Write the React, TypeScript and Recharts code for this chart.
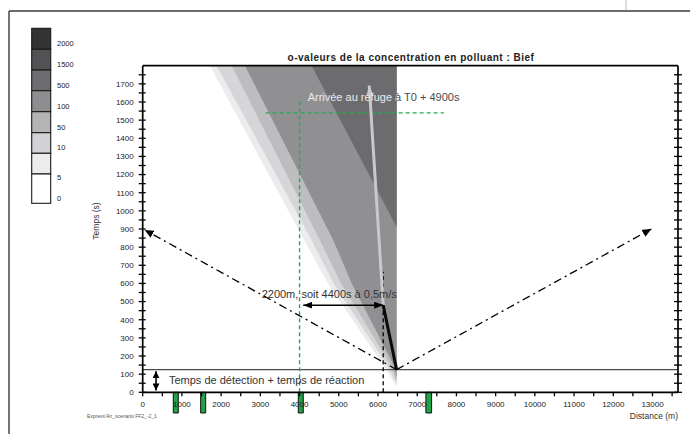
import React from 'react';
import {
  ComposedChart,
  XAxis,
  YAxis,
  Area,
  Line,
  Scatter,
  ReferenceLine,
  ReferenceArea,
} from 'recharts';

// ---------------- data ----------------
const X_DOMAIN: [number, number] = [0, 13650];
const Y_DOMAIN: [number, number] = [0, 1800];
const X_TICKS = [0, 500, 1000, 1500, 2000, 2500, 3000, 3500, 4000, 4500, 5000, 5500, 6000, 6500, 7000, 7500, 8000, 8500, 9000, 9500, 10000, 10500, 11000, 11500, 12000, 12500, 13000, 13500];
const Y_TICKS = [0, 50, 100, 150, 200, 250, 300, 350, 400, 450, 500, 550, 600, 650, 700, 750, 800, 850, 900, 950, 1000, 1050, 1100, 1150, 1200, 1250, 1300, 1350, 1400, 1450, 1500, 1550, 1600, 1650, 1700, 1750];
const X_LABEL_STEP = 1000;
const Y_LABEL_STEP = 100;

const TITLE = 'o-valeurs de la concentration en polluant : Bief';
const X_TITLE = 'Distance (m)';
const Y_TITLE = 'Temps (s)';
const FOOTER = "Express'Air_scenario FF2_-2_1";

const LEGEND_LEVELS = ['2000', '1500', '500', '100', '50', '10', '5', '0'];
const LEGEND_COLORS = ['#333335', '#525254', '#6d6d70', '#8e8e91', '#b4b4b6', '#d2d2d4', '#ececee', '#ffffff'];

// iso-concentration bands (lightest drawn first); boundary polyline points
const BAND_LEVELS = ['5', '10', '50', '100', '500'];
const BAND_COLORS = ['#ececee', '#d6d6d8', '#bdbdbf', '#909093', '#6c6c6f'];
const BAND_EDGE_X = [
  [1715, 4120, 4720, 6130, 6475],
  [1886, 4308, 4870, 6230, 6475],
  [2268, 4520, 5060, 6320, 6475],
  [2607, 4860, 5330, 6400, 6475],
  [4308, 6475],
];
const BAND_EDGE_Y = [
  [1800, 838, 600, 150, 30],
  [1800, 838, 600, 150, 45],
  [1800, 838, 600, 150, 60],
  [1800, 838, 600, 150, 80],
  [1800, 911],
];
const SOURCE_X = 6475;

const DETECTION_TIME = 125;
const SOURCE = { x: 6475, y: 125 };
const LEFT_REACH = { x: 50, y: 895 };
const RIGHT_REACH = { x: 12970, y: 900 };
const WALK_END = { x: 6133, y: 480 };
const REFUGE_ARRIVAL = { x: 5777, y: 1691 };

const GREEN_V = [{ x: 4000, y: 0 }, { x: 4000, y: 1612 }];
const GREEN_H = [{ x: 3135, y: 1540 }, { x: 7680, y: 1540 }];
const DIST_ARROW = [{ x: 4094, y: 480 }, { x: 6133, y: 480 }];
const DASH_V = [{ x: 6133, y: 0 }, { x: 6133, y: 664 }];
const DETECT_ARROW = [{ x: 340, y: 10 }, { x: 340, y: 116 }];

const REFUGES_X1 = [780, 1478, 3967, 7222];
const REFUGES_X2 = [907, 1606, 4094, 7367];
const REFUGE_DEPTH = -114;

const NOTE_ARRIVAL = { x: 4206, y: 1606, text: 'Arrivée au refuge à T0 + 4900s' };
const NOTE_DIST = { x: 3033, y: 522, text: '2200m, soit 4400s à 0,5m/s' };
const NOTE_DETECT = { x: 670, y: 43, text: 'Temps de détection + temps de réaction' };

// ---------------- layout / style ----------------
const W = 690;
const H = 434;
const MARGIN = { top: 64.7, right: 11, bottom: 40.7, left: 141.7 };
const NARROW = "'Liberation Sans Narrow', 'Arial Narrow', 'Liberation Sans', Arial, sans-serif";
const SANS = "'Liberation Sans', Arial, Helvetica, sans-serif";
const LEGEND_EDGES = [28.3, 49.3, 70, 90.7, 111.7, 132.7, 153.3, 174, 203.3];
const LEGEND_LABEL_Y = [43.3, 64.7, 85.3, 106.7, 127, 147, 177.7, 198.3];

const bandData = BAND_EDGE_X.map((xs, i) =>
  xs.map((x, j) => ({ x, lo: BAND_EDGE_Y[i][j], hi: Y_DOMAIN[1] }))
);

const fmtX = (v: number) => (v % X_LABEL_STEP === 0 ? String(v) : '');
const fmtY = (v: number) => (v % Y_LABEL_STEP === 0 ? String(v) : '');
const noLabel = () => '';

const AX = '#000';
const AXIS_LINE = { stroke: AX, strokeWidth: 1.7 };
const TICK_LINE = { stroke: AX, strokeWidth: 1.3 };
const TICK_FONT = { fontSize: 8, fill: '#222', fontFamily: NARROW };
const HIDDEN_TICK = { fontSize: 1, fill: 'none' };
const GREEN = '#1fae4e';

const seg = (
  key: string,
  data: { x: number; y: number }[],
  stroke: string,
  width: number,
  extra: Record<string, any> = {}
) => (
  <Line
    key={key}
    xAxisId="x"
    yAxisId="y"
    data={data}
    dataKey="y"
    type="linear"
    stroke={stroke}
    strokeWidth={width}
    dot={false}
    activeDot={false}
    isAnimationActive={false}
    legendType="none"
    {...extra}
  />
);

const textShape = (text: string, fill: string) => (p: any) => (
  <text x={p.cx} y={p.cy} fill={fill} fontSize={11} fontFamily={SANS}>
    {text}
  </text>
);

export default function App() {
  return (
    <div style={{ position: 'absolute', left: 0, top: 0, width: W, height: H, background: '#fff', overflow: 'hidden' }}>
      <svg width={0} height={0} style={{ position: 'absolute' }}>
        <defs>
          <marker id="ah-dd" viewBox="0 0 10 10" refX="10" refY="5" markerWidth="9" markerHeight="8" markerUnits="userSpaceOnUse" orient="auto-start-reverse" preserveAspectRatio="none">
            <path d="M0,0 L10,5 L0,10 z" fill="#000" />
          </marker>
          <marker id="ah-black" viewBox="0 0 10 10" refX="10" refY="5" markerWidth="9" markerHeight="7" markerUnits="userSpaceOnUse" orient="auto-start-reverse" preserveAspectRatio="none">
            <path d="M0,0 L10,5 L0,10 z" fill="#000" />
          </marker>
          <marker id="ah-small" viewBox="0 0 10 10" refX="10" refY="5" markerWidth="7" markerHeight="7" markerUnits="userSpaceOnUse" orient="auto-start-reverse" preserveAspectRatio="none">
            <path d="M0,0 L10,5 L0,10 z" fill="#000" />
          </marker>
          <marker id="ah-gray" viewBox="0 0 10 10" refX="10" refY="5" markerWidth="10" markerHeight="7" markerUnits="userSpaceOnUse" orient="auto-start-reverse" preserveAspectRatio="none">
            <path d="M0,0 L10,5 L0,10 z" fill="#c9c9cb" />
          </marker>
        </defs>
      </svg>

      <ComposedChart width={W} height={H} margin={MARGIN}>
        <XAxis
          xAxisId="x"
          dataKey="x"
          type="number"
          domain={X_DOMAIN}
          allowDataOverflow
          ticks={X_TICKS}
          interval={0}
          tickFormatter={fmtX}
          height={1}
          tickSize={4}
          tickMargin={5}
          axisLine={AXIS_LINE}
          tickLine={TICK_LINE}
          tick={TICK_FONT}
        />
        <XAxis xAxisId="xin" type="number" mirror domain={X_DOMAIN} allowDataOverflow ticks={X_TICKS} interval={0} height={1} tickSize={3} tickFormatter={noLabel} tick={HIDDEN_TICK} axisLine={false} tickLine={TICK_LINE} />
        <XAxis xAxisId="xt" orientation="top" type="number" domain={X_DOMAIN} allowDataOverflow ticks={X_TICKS} interval={0} height={1} tickSize={4} tickFormatter={noLabel} tick={HIDDEN_TICK} axisLine={AXIS_LINE} tickLine={TICK_LINE} />
        <XAxis xAxisId="xtin" orientation="top" mirror type="number" domain={X_DOMAIN} allowDataOverflow ticks={X_TICKS} interval={0} height={1} tickSize={3} tickFormatter={noLabel} tick={HIDDEN_TICK} axisLine={false} tickLine={TICK_LINE} />

        <YAxis
          yAxisId="y"
          dataKey="y"
          type="number"
          domain={Y_DOMAIN}
          allowDataOverflow
          ticks={Y_TICKS}
          interval={0}
          tickFormatter={fmtY}
          width={1}
          tickSize={4}
          tickMargin={5}
          axisLine={AXIS_LINE}
          tickLine={TICK_LINE}
          tick={TICK_FONT}
        />
        <YAxis yAxisId="yin" mirror type="number" domain={Y_DOMAIN} allowDataOverflow ticks={Y_TICKS} interval={0} width={1} tickSize={3} tickFormatter={noLabel} tick={HIDDEN_TICK} axisLine={false} tickLine={TICK_LINE} />
        <YAxis yAxisId="yr" orientation="right" type="number" domain={Y_DOMAIN} allowDataOverflow ticks={Y_TICKS} interval={0} width={1} tickSize={4} tickFormatter={noLabel} tick={HIDDEN_TICK} axisLine={AXIS_LINE} tickLine={TICK_LINE} />
        <YAxis yAxisId="yrin" orientation="right" mirror type="number" domain={Y_DOMAIN} allowDataOverflow ticks={Y_TICKS} interval={0} width={1} tickSize={4} tickFormatter={noLabel} tick={HIDDEN_TICK} axisLine={false} tickLine={TICK_LINE} />

        {bandData.map((d, i) => (
          <Area
            key={`band-${BAND_LEVELS[i]}`}
            xAxisId="x"
            yAxisId="y"
            data={d}
            dataKey={(r: any) => [r.lo, r.hi]}
            type="linear"
            stroke="none"
            fill={BAND_COLORS[i]}
            fillOpacity={1}
            dot={false}
            activeDot={false}
            isAnimationActive={false}
            legendType="none"
          />
        ))}

        <ReferenceLine xAxisId="x" yAxisId="y" y={DETECTION_TIME} stroke="#4a4a4a" strokeWidth={1.2} />

        {seg('green-v', GREEN_V, GREEN, 1.4, { strokeDasharray: '4 3' })}
        {seg('green-h', GREEN_H, GREEN, 1.4, { strokeDasharray: '4 3' })}
        {seg('dd-left', [SOURCE, LEFT_REACH], '#000', 1.3, { strokeDasharray: '8 4 2 4', markerEnd: 'url(#ah-dd)' })}
        {seg('dd-right', [SOURCE, RIGHT_REACH], '#000', 1.3, { strokeDasharray: '8 4 2 4', markerEnd: 'url(#ah-dd)' })}
        {seg('dash-v', DASH_V, '#000', 1.3, { strokeDasharray: '4 3' })}
        {seg('walk-gray', [WALK_END, REFUGE_ARRIVAL], '#c9c9cb', 3, { markerEnd: 'url(#ah-gray)' })}
        {seg('walk-black', [SOURCE, WALK_END], '#0a0a0a', 3)}
        {seg('dist-arrow', DIST_ARROW, '#000', 1.6, { markerStart: 'url(#ah-black)', markerEnd: 'url(#ah-black)' })}
        {seg('detect-arrow', DETECT_ARROW, '#000', 1.6, { markerStart: 'url(#ah-small)', markerEnd: 'url(#ah-small)' })}

        {REFUGES_X1.map((x1, i) => (
          <ReferenceArea
            key={`refuge-${i}`}
            xAxisId="x"
            yAxisId="y"
            x1={x1}
            x2={REFUGES_X2[i]}
            y1={REFUGE_DEPTH}
            y2={0}
            ifOverflow="visible"
            fill="#1fa24a"
            fillOpacity={1}
            stroke="#111"
            strokeWidth={1}
          />
        ))}

        <Scatter
          xAxisId="x"
          yAxisId="y"
          data={[{ x: SOURCE_X, y: Y_DOMAIN[1] }]}
          dataKey="y"
          isAnimationActive={false}
          legendType="none"
          shape={(p: any) => (
            <g>
              <defs>
                <clipPath id="clip-dark">
                  <rect x={0} y={0} width={p.cx} height={H} />
                </clipPath>
                <clipPath id="clip-white">
                  <rect x={p.cx} y={0} width={W} height={H} />
                </clipPath>
              </defs>
            </g>
          )}
        />
        <Scatter
          xAxisId="x"
          yAxisId="y"
          data={[NOTE_ARRIVAL]}
          dataKey="y"
          isAnimationActive={false}
          legendType="none"
          shape={(p: any) => (
            <g>
              <text x={p.cx} y={p.cy} fill="#ebebed" fontSize={11} fontFamily={SANS} clipPath="url(#clip-dark)">
                {NOTE_ARRIVAL.text}
              </text>
              <text x={p.cx} y={p.cy} fill="#4a4a4a" fontSize={11} fontFamily={SANS} clipPath="url(#clip-white)">
                {NOTE_ARRIVAL.text}
              </text>
            </g>
          )}
        />
        <Scatter xAxisId="x" yAxisId="y" data={[NOTE_DIST]} dataKey="y" isAnimationActive={false} legendType="none" shape={textShape(NOTE_DIST.text, '#333')} />
        <Scatter xAxisId="x" yAxisId="y" data={[NOTE_DETECT]} dataKey="y" isAnimationActive={false} legendType="none" shape={textShape(NOTE_DETECT.text, '#333')} />
      </ComposedChart>

      <svg width={W} height={H} style={{ position: 'absolute', left: 0, top: 0, pointerEvents: 'none' }}>
        <line x1={9} y1={11} x2={W} y2={11} stroke="#3a3a3a" strokeWidth={1.4} />
        <line x1={9} y1={11} x2={9} y2={H} stroke="#3a3a3a" strokeWidth={1.4} />
        <line x1={626} y1={0} x2={626} y2={10} stroke="#cfcfcf" strokeWidth={1.5} />

        {LEGEND_LEVELS.map((lv, i) => (
          <g key={`lg-${lv}`}>
            <rect x={31.7} y={LEGEND_EDGES[i]} width={19} height={LEGEND_EDGES[i + 1] - LEGEND_EDGES[i]} fill={LEGEND_COLORS[i]} stroke="#1a1a1a" strokeWidth={1.1} />
            <text x={57} y={LEGEND_LABEL_Y[i]} dy="0.35em" fontSize={7.5} fill="#222" fontFamily={NARROW}>
              {lv}
            </text>
          </g>
        ))}

        <text x={411} y={61} textAnchor="middle" fontSize={10} fontWeight="bold" letterSpacing={0.5} fill="#222" fontFamily={SANS}>
          {TITLE}
        </text>
        <text x={99} y={221} textAnchor="middle" fontSize={8.5} fill="#333" fontFamily={NARROW} transform="rotate(-90 99 221)">
          {Y_TITLE}
        </text>
        <text x={678} y={419} textAnchor="end" fontSize={8.5} fill="#333" fontFamily={NARROW}>
          {X_TITLE}
        </text>
        <text x={87} y={418} fontSize={5} fill="#555" fontFamily={NARROW}>
          {FOOTER}
        </text>
      </svg>
    </div>
  );
}
